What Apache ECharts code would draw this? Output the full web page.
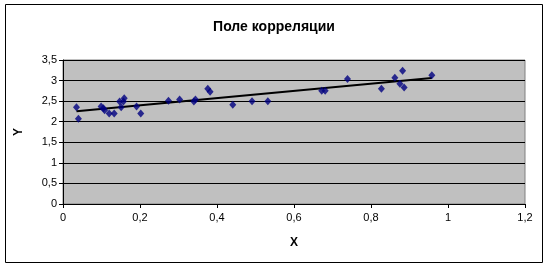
<!DOCTYPE html>
<html><head><meta charset="utf-8">
<script src="https://cdn.jsdelivr.net/npm/echarts@6/dist/echarts.min.js"></script>
<style>html,body{margin:0;padding:0;background:#fff}#c{width:548px;height:266px}</style>
</head><body><div id="c"></div>
<script>
const titleText = 'Поле корреляции';
const xName = 'X';
const yName = 'Y';
const xValues = [0.035,0.040,0.099,0.105,0.108,0.120,0.133,0.147,0.151,0.157,0.159,0.191,0.202,
  0.274,0.303,0.340,0.344,0.376,0.382,0.441,0.491,0.532,
  0.672,0.681,0.739,0.827,0.862,0.875,0.882,0.886,0.958];
const yValues = [2.35,2.07,2.37,2.33,2.28,2.20,2.20,2.49,2.35,2.49,2.57,2.37,2.20,
  2.51,2.54,2.49,2.54,2.80,2.73,2.41,2.50,2.50,
  2.75,2.75,3.04,2.80,3.07,2.92,3.24,2.83,3.13];

// least-squares trend line over the data
const n = xValues.length;
const mx = xValues.reduce((a,b)=>a+b,0)/n;
const my = yValues.reduce((a,b)=>a+b,0)/n;
let sxy=0,sxx=0;
for(let i=0;i<n;i++){sxy+=(xValues[i]-mx)*(yValues[i]-my);sxx+=(xValues[i]-mx)**2;}
const slope = sxy/sxx, icpt = my - slope*mx;
const xmin = Math.min(...xValues), xmax = Math.max(...xValues);
const trend = [[xmin, icpt+slope*xmin],[xmax, icpt+slope*xmax]];

const fmt = v => String(+v.toFixed(1)).replace('.', ',');
const font = '"Liberation Sans", Arial, sans-serif';
const chart = echarts.init(document.getElementById('c'), null, {renderer:'canvas'});
chart.setOption({
  animation:false,
  backgroundColor:'#fff',
  title:{text:titleText,left:'center',top:15,textStyle:{fontFamily:font,fontSize:14,fontWeight:'bold',color:'#000'}},
  grid:{left:63,right:23,top:60,bottom:62,show:true,backgroundColor:'#C0C0C0',borderColor:'#808080',borderWidth:1,outerBoundsMode:'none',containLabel:false},
  xAxis:{type:'value',min:0,max:1.2,interval:0.2,name:xName,nameLocation:'middle',nameGap:33,
    nameTextStyle:{fontFamily:font,fontSize:12,fontWeight:'bold',color:'#000'},
    axisLine:{show:true,onZero:false,lineStyle:{color:'#000',width:1}},
    axisTick:{show:true,length:4,inside:false,lineStyle:{color:'#000'}},
    axisLabel:{margin:8,fontFamily:font,fontSize:11,color:'#000',formatter:fmt},
    splitLine:{show:false}},
  yAxis:{type:'value',min:0,max:3.5,interval:0.5,name:yName,nameLocation:'middle',nameGap:38,nameRotate:90,
    nameTextStyle:{fontFamily:font,fontSize:12,fontWeight:'bold',color:'#000'},
    axisLine:{show:true,onZero:false,lineStyle:{color:'#000',width:1}},
    axisTick:{show:true,length:4,inside:false,lineStyle:{color:'#000'}},
    axisLabel:{margin:6,fontFamily:font,fontSize:11,color:'#000',formatter:fmt},
    splitLine:{show:true,lineStyle:{color:'#000',width:1}}},
  graphic:[{type:'rect',shape:{x:5.5,y:4.5,width:537,height:258},style:{fill:'none',stroke:'#000',lineWidth:1},silent:true,z:-1}],
  series:[
    {type:'line',data:trend,symbol:'none',lineStyle:{color:'#000',width:2},z:2},
    {type:'scatter',data:xValues.map((x,i)=>[x,yValues[i]]),symbol:'diamond',symbolSize:[7,8],itemStyle:{color:'#000080'},z:3}
  ]
});
</script></body></html>
